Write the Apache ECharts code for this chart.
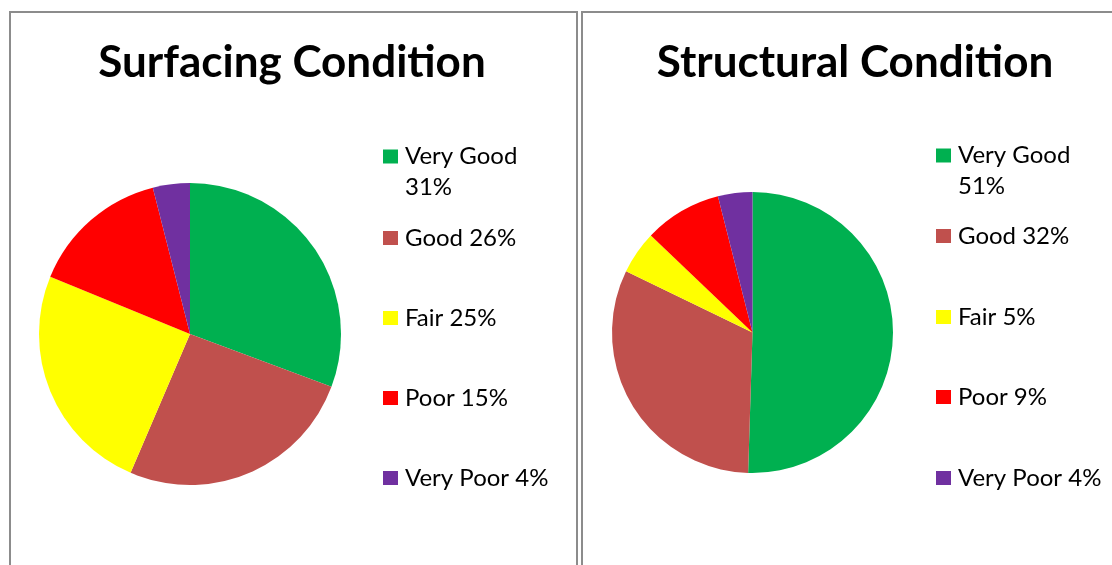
<!DOCTYPE html>
<html>
<head>
<meta charset="utf-8">
<script src="https://cdn.jsdelivr.net/npm/echarts@6/dist/echarts.min.js"></script>
<style>
html, body { margin: 0; padding: 0; background: #fff; }
#chart { width: 1112px; height: 565px; }
</style>
</head>
<body>
<div id="chart"></div>
<script>
// data
const categories = ["Very Good", "Good", "Fair", "Poor", "Very Poor"];
const surfacingValues = [31, 26, 25, 15, 4];
const structuralValues = [51, 32, 5, 9, 4];
const titles = ["Surfacing Condition", "Structural Condition"];
const colors = ["#00B050", "#C0504D", "#FFFF00", "#FF0000", "#7030A0"];

const FONT = "Lato";

// one legend per row so the rows can sit where Excel put them
function buildLegends(values, left, rowCenters) {
    return categories.map((name, i) => ({
        orient: "vertical",
        left: left,
        // first row wraps onto two lines, a blank line above keeps the box on the first
        top: rowCenters[i] - (i === 0 ? 47 : 12),
        padding: 0,
        icon: "rect",
        itemWidth: 15,
        itemHeight: 14,
        selectedMode: false,
        data: [name],
        formatter: n => (i === 0 ? "\n" + n + "\n" : n + " ") + values[i] + "%",
        textStyle: {
            fontFamily: FONT,
            fontSize: 24,
            color: "#000",
            lineHeight: i === 0 ? 31 : 24,
            padding: [0, 0, 0, 2]
        }
    }));
}

function buildPie(values, center, radius) {
    return {
        type: "pie",
        center: center,
        radius: radius,
        startAngle: 90,
        clockwise: true,
        label: { show: false },
        labelLine: { show: false },
        emphasis: { disabled: true },
        silent: true,
        itemStyle: { borderWidth: 0 },
        data: categories.map((c, i) => ({
            name: c,
            value: values[i],
            itemStyle: { color: colors[i] }
        }))
    };
}

const titleStyle = { fontFamily: FONT, fontWeight: "bold", fontSize: 44, color: "#000" };

const chart = echarts.init(document.getElementById("chart"));
chart.setOption({
    backgroundColor: "#fff",
    animation: false,
    title: [
        { text: titles[0], left: 292, top: 41, padding: 0, textAlign: "center", textStyle: titleStyle },
        { text: titles[1], left: 855, top: 41, padding: 0, textAlign: "center", textStyle: titleStyle }
    ],
    graphic: [
        { type: "rect", shape: { x: 10, y: 12, width: 567, height: 600 },
          style: { fill: "none", stroke: "#8c8c8c", lineWidth: 2 }, silent: true },
        { type: "rect", shape: { x: 582, y: 12, width: 600, height: 600 },
          style: { fill: "none", stroke: "#8c8c8c", lineWidth: 2 }, silent: true }
    ],
    legend: [
        ...buildLegends(surfacingValues, 383, [157, 238, 318, 398, 478]),
        ...buildLegends(structuralValues, 936, [156, 236, 317, 397, 478])
    ],
    series: [
        buildPie(surfacingValues, [190, 334], 151),
        buildPie(structuralValues, [752.5, 332.5], 140.5)
    ]
});
</script>
</body>
</html>
